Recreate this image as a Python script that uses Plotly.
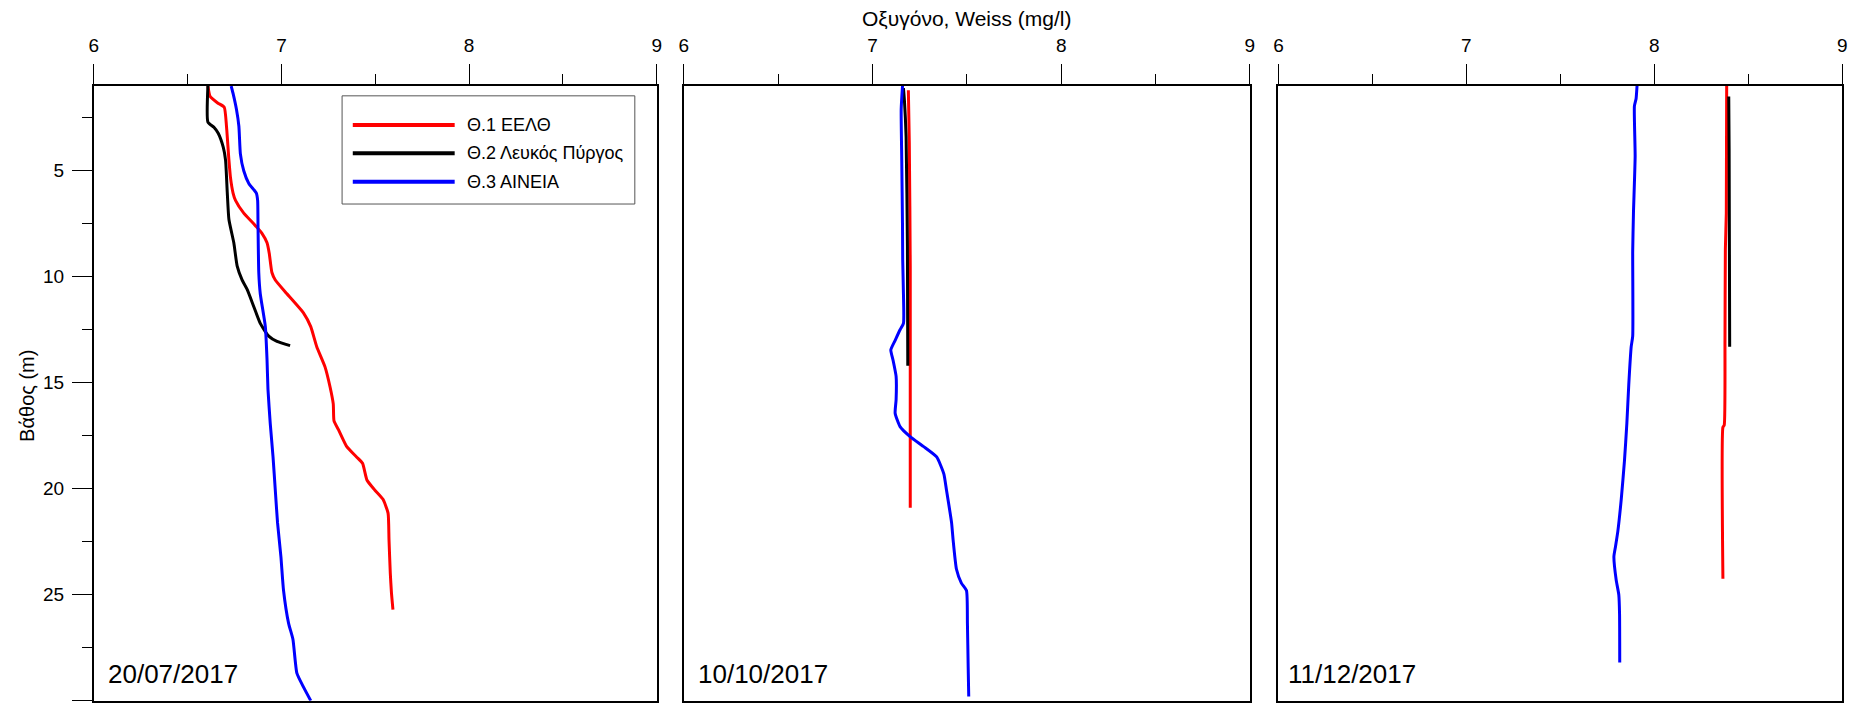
import plotly.graph_objects as go

# Dissolved oxygen profiles (Weiss, mg/l) vs depth (m) at three stations, three surveys
station_names = ["Θ.1 ΕΕΛΘ", "Θ.2 Λευκός Πύργος", "Θ.3 ΑΙΝΕΙΑ"]
station_colors = ["#FF0000", "#000000", "#0000FF"]
survey_dates = ["20/07/2017", "10/10/2017", "11/12/2017"]

# --- 20/07/2017 ---
jul_s1_depth = [1.0, 1.5, 1.8, 2.0, 2.9, 4.5, 5.3, 6.05, 6.4, 7.0, 7.5, 7.95, 8.4, 8.9, 9.8,
                10.15, 10.8, 11.7, 12.35, 13.3, 14.25, 15.2, 16.0, 16.8, 17.2, 18.0, 18.5,
                18.8, 19.6, 20.06, 20.5, 21.15, 22.4, 24.0, 24.9, 25.7]
jul_s1_oxy = [6.608, 6.62, 6.66, 6.695, 6.707, 6.72, 6.728, 6.742, 6.755, 6.799, 6.852, 6.896,
              6.923, 6.935, 6.949, 6.967, 7.029, 7.117, 7.156, 7.188, 7.232, 7.259, 7.276,
              7.28, 7.303, 7.347, 7.4, 7.432, 7.456, 7.497, 7.541, 7.568, 7.573, 7.58, 7.586,
              7.594]
jul_s2_depth = [1.0, 2.7, 2.95, 3.23, 3.9, 4.5, 6.0, 7.3, 8.4, 9.5, 10.15, 10.6, 11.4, 12.2,
                12.8, 13.05, 13.25]
jul_s2_oxy = [6.608, 6.608, 6.64, 6.663, 6.69, 6.702, 6.711, 6.72, 6.746, 6.764, 6.79, 6.817,
              6.852, 6.887, 6.932, 6.976, 7.046]
jul_s3_depth = [1.0, 1.35, 2.1, 2.9, 4.2, 5.0, 5.6, 6.05, 6.4, 7.6, 9.8, 10.8, 12.35, 13.9,
                15.3, 16.9, 18.5, 20.06, 21.6, 23.2, 24.8, 26.35, 27.1, 28.7, 29.3, 30.0]
jul_s3_oxy = [6.732, 6.742, 6.76, 6.773, 6.781, 6.799, 6.826, 6.866, 6.873, 6.875, 6.879,
              6.887, 6.914, 6.923, 6.928, 6.94, 6.955, 6.967, 6.979, 6.997, 7.011, 7.038,
              7.061, 7.082, 7.114, 7.156]

# --- 10/10/2017 ---
oct_s1_depth = [1.2, 3.7, 9.5, 20.9]
oct_s1_oxy = [7.19, 7.195, 7.2, 7.2]
oct_s2_depth = [1.1, 1.66, 3.4, 8.6, 14.2]
oct_s2_oxy = [7.164, 7.169, 7.178, 7.185, 7.187]
oct_s3_depth = [1.0, 2.1, 4.5, 7.6, 9.2, 10.8, 12.2, 12.5, 13.0, 13.45, 13.9, 14.7, 15.8,
                16.44, 17.07, 17.54, 18.0, 18.5, 19.3, 20.06, 21.6, 22.4, 23.8, 24.45, 24.8,
                26.35, 28.4, 29.8]
oct_s3_oxy = [7.159, 7.152, 7.155, 7.159, 7.16, 7.164, 7.164, 7.146, 7.12, 7.097, 7.108,
              7.125, 7.125, 7.12, 7.146, 7.199, 7.269, 7.34, 7.378, 7.392, 7.419, 7.427,
              7.445, 7.471, 7.498, 7.503, 7.507, 7.51]

# --- 11/12/2017 ---
dec_s1_depth = [1.0, 7.0, 8.7, 13.0, 17.0, 17.1, 24.25]
dec_s1_oxy = [8.385, 8.383, 8.378, 8.376, 8.372, 8.365, 8.365]
dec_s2_depth = [1.5, 4.0, 13.3]
dec_s2_oxy = [8.396, 8.398, 8.401]
dec_s3_depth = [1.0, 1.6, 1.95, 4.3, 7.0, 8.8, 12.8, 13.3, 15.1, 16.9, 18.7, 20.5, 22.0,
                22.7, 23.2, 24.3, 25.0, 25.9, 28.2]
dec_s3_oxy = [7.908, 7.903, 7.894, 7.898, 7.889, 7.885, 7.885, 7.877, 7.864, 7.854, 7.841,
              7.824, 7.806, 7.794, 7.785, 7.797, 7.811, 7.815, 7.816]

x_ticks = [6, 7, 8, 9]
x_minor_ticks = [6.5, 7.5, 8.5]
depth_ticks = [5, 10, 15, 20, 25, 30]
depth_minor_ticks = [2.5, 7.5, 12.5, 17.5, 22.5, 27.5]

surveys = [
    [(jul_s1_oxy, jul_s1_depth), (jul_s2_oxy, jul_s2_depth), (jul_s3_oxy, jul_s3_depth)],
    [(oct_s1_oxy, oct_s1_depth), (oct_s2_oxy, oct_s2_depth), (oct_s3_oxy, oct_s3_depth)],
    [(dec_s1_oxy, dec_s1_depth), (dec_s2_oxy, dec_s2_depth), (dec_s3_oxy, dec_s3_depth)],
]

W, H = 1860, 711
FONT = "Liberation Sans, Arial, sans-serif"
x_domains = [[89.3 / W, 655.3 / W], [682.5 / W, 1251.6 / W], [1280.3 / W, 1847.2 / W]]
y_domain = [1 - 700.7 / H, 1 - 86 / H]

fig = go.Figure()
for p, profiles in enumerate(surveys):
    sfx = "" if p == 0 else str(p + 1)
    for (oxy, depth), name, color in zip(profiles, station_names, station_colors):
        fig.add_trace(go.Scatter(
            x=oxy, y=depth, mode="lines", name=name,
            line=dict(color=color, width=3, shape="spline", smoothing=0.5),
            xaxis="x" + sfx, yaxis="y" + sfx, showlegend=False,
        ))

layout = dict(
    width=W, height=H, margin=dict(l=0, r=0, t=0, b=0),
    paper_bgcolor="white", plot_bgcolor="white",
    font=dict(family=FONT, size=19, color="black"),
    showlegend=False,
)
for p in range(3):
    sfx = "" if p == 0 else str(p + 1)
    layout["xaxis" + sfx] = dict(
        domain=x_domains[p], range=[6, 9], side="top", anchor="y" + sfx,
        tickvals=x_ticks, ticks="outside", ticklen=20, tickwidth=1, tickcolor="black",
        minor=dict(tickvals=x_minor_ticks, ticks="outside", ticklen=10, tickwidth=1,
                   tickcolor="black"),
        showline=True, linewidth=2, linecolor="black", mirror=True,
        showgrid=False, zeroline=False, tickfont=dict(size=19),
        ticklabelstandoff=4,
    )
    ydef = dict(
        domain=y_domain, range=[30, 1], anchor="x" + sfx,
        showline=True, linewidth=2, linecolor="black", mirror=True,
        showgrid=False, zeroline=False,
    )
    if p == 0:
        ydef.update(
            tickvals=depth_ticks, ticks="outside", ticklen=20, tickwidth=1, tickcolor="black",
            minor=dict(tickvals=depth_minor_ticks, ticks="outside", ticklen=10, tickwidth=1,
                       tickcolor="black"),
            tickfont=dict(size=19), ticklabelstandoff=4,
        )
    else:
        ydef.update(showticklabels=False, ticks="")
    layout["yaxis" + sfx] = ydef
fig.update_layout(**layout)

# Survey date label inside each panel, bottom-left
date_shift = [13, 13, 9]
for p, date in enumerate(survey_dates):
    sfx = "" if p == 0 else str(p + 1)
    fig.add_annotation(
        text=date, xref="x" + sfx + " domain", yref="y" + sfx + " domain",
        x=0, y=0, xanchor="left", yanchor="bottom", xshift=date_shift[p], yshift=11,
        showarrow=False, font=dict(size=26, family=FONT), borderpad=0,
    )

# Shared x-axis title and depth-axis title
fig.add_annotation(
    text="Οξυγόνο, Weiss (mg/l)", xref="paper", yref="paper",
    x=967 / W, y=1 - 18.5 / H, xanchor="center", yanchor="middle",
    showarrow=False, font=dict(size=21, family=FONT),
)
fig.add_annotation(
    text="Βάθος (m)", xref="paper", yref="paper",
    x=22 / W, y=1 - 396 / H, xanchor="center", yanchor="middle", textangle=-90,
    showarrow=False, font=dict(size=20, family=FONT),
)

# Station key in the first panel
fig.add_shape(type="rect", xref="x domain", yref="y domain",
              x0=0.441, x1=0.961, y0=0.808, y1=0.984,
              line=dict(color="#555555", width=1), fillcolor="white", layer="above")
key_rows = [0.9366, 0.8905, 0.8443]
for name, color, yk in zip(station_names, station_colors, key_rows):
    fig.add_shape(type="line", xref="x domain", yref="y domain",
                  x0=0.46, x1=0.641, y0=yk, y1=yk,
                  line=dict(color=color, width=4), layer="above")
    fig.add_annotation(text=name, xref="x domain", yref="y domain",
                       x=0.660, y=yk, xanchor="left", yanchor="middle",
                       showarrow=False, font=dict(size=18, family=FONT))

fig.write_html("out.html")
